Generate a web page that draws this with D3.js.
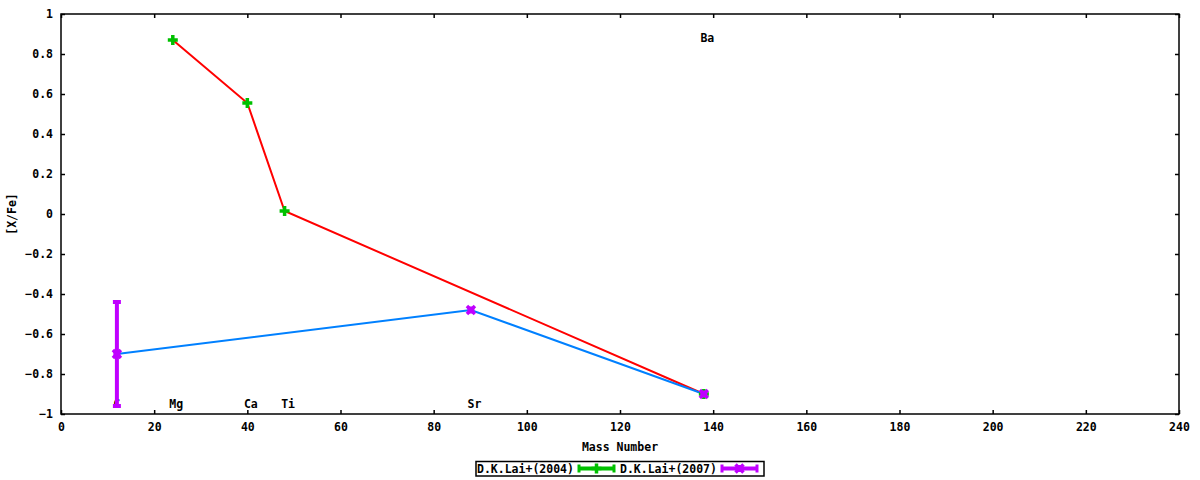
<!DOCTYPE html>
<html>
<head>
<meta charset="utf-8">
<script src="https://cdn.jsdelivr.net/npm/d3@7"></script>
<style>
  body { margin: 0; background: #fff; }
  text { font-family: "DejaVu Sans Mono", monospace; font-size: 11.5px; font-weight: bold; fill: #000; }
</style>
</head>
<body>
<div class="chart"></div>
<script>
// D.K.Lai+(2004)
var lai04Mass = [24, 40, 48, 138];
var lai04Val = [0.87, 0.555, 0.015, -0.90];

// D.K.Lai+(2007)
var lai07Mass = [12, 88, 138];
var lai07Val = [-0.70, -0.48, -0.90];
var lai07ErrLo = [-0.96, -0.48, -0.90];
var lai07ErrHi = [-0.44, -0.48, -0.90];

// element labels (C sits mostly under the error bar)
var elemNames = ["C", "Mg", "Ca", "Ti", "Sr", "Ba"];
var elemMass = [11.2, 24, 40, 48, 88, 138];
var elemY = [-0.95, -0.95, -0.95, -0.95, -0.95, 0.88];

var xTicks = d3.range(0, 241, 20);
var yTicks = [-1, -0.8, -0.6, -0.4, -0.2, 0, 0.2, 0.4, 0.6, 0.8, 1];
var seriesNames = ["D.K.Lai+(2004)", "D.K.Lai+(2007)"];

var width = 1200, height = 480;
var pLeft = 61, pRight = 1179, pTop = 14, pBottom = 414;

var svg = d3.select(".chart").append("svg")
    .attr("width", width).attr("height", height);

var x = d3.scaleLinear().domain([0, 240]).range([pLeft, pRight]);
var y = d3.scaleLinear().domain([-1, 1]).range([pBottom, pTop]);

var tickLen = 4;

// axes with inward ticks, mirrored on top and right
var xAxis = d3.axisBottom(x).tickValues(xTicks).tickSizeInner(-tickLen).tickSizeOuter(0).tickPadding(9);
var yAxis = d3.axisLeft(y).tickValues(yTicks).tickSizeInner(-tickLen).tickSizeOuter(0).tickPadding(8)
    .tickFormat(function(d){ return d3.format("")(+d.toFixed(1)); });

svg.append("g").attr("transform", "translate(0," + pBottom + ")").call(xAxis);
svg.append("g").attr("transform", "translate(" + pLeft + ",0)").call(yAxis);
svg.append("g").attr("transform", "translate(0," + pTop + ")")
    .call(d3.axisTop(x).tickValues(xTicks).tickSizeInner(-tickLen).tickSizeOuter(0).tickFormat(""));
svg.append("g").attr("transform", "translate(" + pRight + ",0)")
    .call(d3.axisRight(y).tickValues(yTicks).tickSizeInner(-tickLen).tickSizeOuter(0).tickFormat(""));

svg.selectAll(".domain").remove();
svg.selectAll(".tick line").attr("stroke", "#000").attr("stroke-width", 1.5);
svg.selectAll(".tick text").attr("fill", "#000")
    .style("font-family", "'DejaVu Sans Mono', monospace").style("font-size", "11.5px").style("font-weight", "bold");

svg.append("rect")
    .attr("x", pLeft).attr("y", pTop)
    .attr("width", pRight - pLeft).attr("height", pBottom - pTop)
    .attr("fill", "none").attr("stroke", "#000").attr("stroke-width", 1.5);

// axis titles
svg.append("text").attr("x", (pLeft + pRight) / 2).attr("y", 451)
    .attr("text-anchor", "middle").text("Mass Number");
svg.append("text").attr("transform", "translate(16," + ((pTop + pBottom) / 2) + ") rotate(-90)")
    .attr("text-anchor", "middle").text("[X/Fe]");

// element labels
svg.selectAll(".elem").data(elemNames).enter().append("text")
    .attr("class", "elem")
    .attr("x", function(d, i){ return x(elemMass[i]) + 3.5; })
    .attr("y", function(d, i){ return y(elemY[i]); })
    .attr("dy", "0.35em")
    .attr("text-anchor", "middle")
    .text(function(d){ return d; });

var line = d3.line()
    .x(function(d){ return x(d[0]); })
    .y(function(d){ return y(d[1]); });

var pts04 = lai04Mass.map(function(m, i){ return [m, lai04Val[i]]; });
var pts07 = lai07Mass.map(function(m, i){ return [m, lai07Val[i]]; });

svg.append("path").datum(pts04).attr("d", line)
    .attr("fill", "none").attr("stroke", "#ff0000").attr("stroke-width", 2);
svg.append("path").datum(pts07).attr("d", line)
    .attr("fill", "none").attr("stroke", "#0080ff").attr("stroke-width", 2);

var green = "#00c000", purple = "#c000ff";

// error bars 2007
var eb = svg.append("g");
lai07Mass.forEach(function(m, i){
    var cx = x(m), y1 = y(lai07ErrLo[i]), y2 = y(lai07ErrHi[i]);
    if (Math.abs(y1 - y2) < 1) return;
    eb.append("line").attr("x1", cx).attr("x2", cx).attr("y1", y1).attr("y2", y2)
        .attr("stroke", purple).attr("stroke-width", 4);
    [y1, y2].forEach(function(yy){
        eb.append("line").attr("x1", cx - 4).attr("x2", cx + 4).attr("y1", yy).attr("y2", yy)
            .attr("stroke", purple).attr("stroke-width", 4);
    });
});

function plusMark(g, cx, cy, col){
    g.append("path").attr("d", "M" + (cx - 5) + "," + cy + "H" + (cx + 5) + "M" + cx + "," + (cy - 5) + "V" + (cy + 5))
        .attr("stroke", col).attr("stroke-width", 3.5).attr("fill", "none");
}
function crossMark(g, cx, cy, col){
    g.append("path").attr("d", "M" + (cx - 4) + "," + (cy - 4) + "L" + (cx + 4) + "," + (cy + 4) + "M" + (cx + 4) + "," + (cy - 4) + "L" + (cx - 4) + "," + (cy + 4))
        .attr("stroke", col).attr("stroke-width", 3.5).attr("fill", "none");
    g.append("rect").attr("x", cx - 3.5).attr("y", cy - 3.5).attr("width", 7).attr("height", 7).attr("fill", col);
}

var mk = svg.append("g");
pts04.forEach(function(p){ plusMark(mk, x(p[0]), y(p[1]), green); });
pts07.forEach(function(p){ crossMark(mk, x(p[0]), y(p[1]), purple); });

// legend
var lg = svg.append("g");
lg.append("rect").attr("x", 476).attr("y", 461.5).attr("width", 288).attr("height", 14.5)
    .attr("fill", "none").attr("stroke", "#000").attr("stroke-width", 1.5);
var legCols = [green, purple];
var legX = [477, 620];
seriesNames.forEach(function(name, i){
    var tx = legX[i];
    lg.append("text").attr("x", tx).attr("y", 469).attr("dy", "0.35em").text(name);
    var sx1 = tx + 102, sx2 = tx + 137, sy = 468.5;
    lg.append("line").attr("x1", sx1).attr("x2", sx2).attr("y1", sy).attr("y2", sy)
        .attr("stroke", legCols[i]).attr("stroke-width", 4);
    [sx1, sx2].forEach(function(xx){
        lg.append("line").attr("x1", xx).attr("x2", xx).attr("y1", sy - 4).attr("y2", sy + 4)
            .attr("stroke", legCols[i]).attr("stroke-width", 3);
    });
    var mx = (sx1 + sx2) / 2;
    if (i === 0) plusMark(lg, mx, sy, legCols[i]); else crossMark(lg, mx, sy, legCols[i]);
});
</script>
</body>
</html>
